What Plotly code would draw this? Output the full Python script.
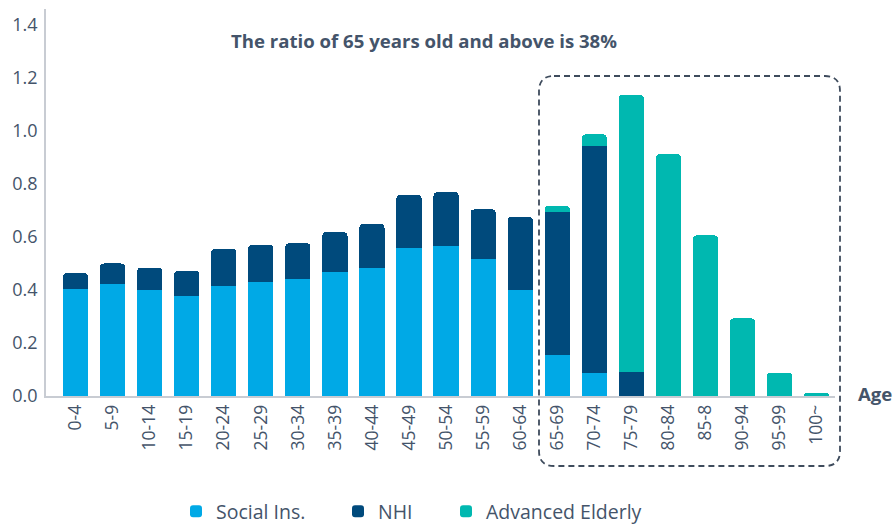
import plotly.graph_objects as go

age_groups = ["0-4", "5-9", "10-14", "15-19", "20-24", "25-29", "30-34", "35-39",
              "40-44", "45-49", "50-54", "55-59", "60-64", "65-69", "70-74", "75-79",
              "80-84", "85-8", "90-94", "95-99", "100~"]
social_ins = [0.404, 0.423, 0.400, 0.378, 0.416, 0.430, 0.443, 0.468, 0.483, 0.557,
              0.566, 0.516, 0.400, 0.155, 0.087, None, None, None, None, None, None]
nhi = [0.059, 0.077, 0.084, 0.094, 0.139, 0.140, 0.133, 0.150, 0.166, 0.201,
       0.203, 0.188, 0.275, 0.541, 0.856, 0.092, None, None, None, None, None]
advanced_elderly = [None, None, None, None, None, None, None, None, None, None,
                    None, None, None, 0.022, 0.044, 1.044, 0.912, 0.606, 0.293, 0.088, 0.010]
y_ticks = [0.0, 0.2, 0.4, 0.6, 0.8, 1.0, 1.2, 1.4]

TEXT = "#44546a"
FONT = "Open Sans"

fig = go.Figure()
fig.add_bar(name="Social Ins.", x=age_groups, y=social_ins, marker_color="#00a9e6",
            marker_line_width=0, legend="legend")
fig.add_bar(name="NHI", x=age_groups, y=nhi, marker_color="#004a7c",
            marker_line_width=0, legend="legend2")
fig.add_bar(name="Advanced Elderly", x=age_groups, y=advanced_elderly,
            marker_color="#00b8b0", marker_line_width=0, legend="legend3")

FW, FH = 895, 525
L, R, T, B = 46, 835, 9, 396
W, H = R - L, B - T

def px(xs):
    return (xs - L) / W

def py(ys):
    return (B - ys) / H

# dashed rounded box around the 65+ groups
x0, x1, y0, y1 = px(539), px(840), py(466), py(76)
rx, ry = 15 / W, 15 / H
path = (f"M {x0+rx},{y1} L {x1-rx},{y1} Q {x1},{y1} {x1},{y1-ry} "
        f"L {x1},{y0+ry} Q {x1},{y0} {x1-rx},{y0} L {x0+rx},{y0} "
        f"Q {x0},{y0} {x0},{y0+ry} L {x0},{y1-ry} Q {x0},{y1} {x0+rx},{y1} Z")
fig.add_shape(type="path", path=path, xref="paper", yref="paper",
              line=dict(color="#3e4b5c", width=1.8, dash="6px,4px"))

fig.add_annotation(text="<b>The ratio of 65 years old and above is 38%</b>",
                   xref="paper", yref="paper", x=px(424), y=py(40),
                   xanchor="center", yanchor="middle", showarrow=False,
                   font=dict(size=18.6, color=TEXT, family=FONT))
fig.add_annotation(text="<b>Age</b>", xref="paper", yref="paper",
                   x=px(875), y=py(393), xanchor="center", yanchor="middle",
                   showarrow=False, font=dict(size=18.6, color=TEXT, family=FONT))

def legend_at(text_left):
    return dict(orientation="h", x=px(text_left - 40), y=py(531), xanchor="left",
                yanchor="bottom", font=dict(size=19.5, color=TEXT, family=FONT),
                bgcolor="rgba(0,0,0,0)")

fig.update_layout(
    width=FW, height=FH,
    margin=dict(l=L, r=FW - R, t=T, b=FH - B, autoexpand=False),
    barmode="stack", bargap=0.32, barcornerradius=4,
    plot_bgcolor="white", paper_bgcolor="white",
    font=dict(family=FONT, color=TEXT, size=18),
    showlegend=True,
    legend=legend_at(216),
    legend2=legend_at(378),
    legend3=legend_at(486),
    xaxis=dict(type="category", range=[-0.8, 20.5], tickangle=-90, showline=True,
               linecolor="#c8ccd3", linewidth=1.5, showgrid=False, zeroline=False,
               ticks="", automargin=False, tickfont=dict(size=17.5, color=TEXT)),
    yaxis=dict(range=[0, 1.46], tickvals=y_ticks, tickformat=".1f", showline=True,
               linecolor="#c8ccd3", linewidth=1.5, showgrid=False, zeroline=False,
               ticks="", ticklabelstandoff=3, automargin=False,
               tickfont=dict(size=18, color=TEXT)),
)

# the page body has a default 8px margin; remove it so the figure sits at (0, 0)
fig.write_html("out.html", config={"displayModeBar": False},
               post_script="document.body.style.margin='0px';")
